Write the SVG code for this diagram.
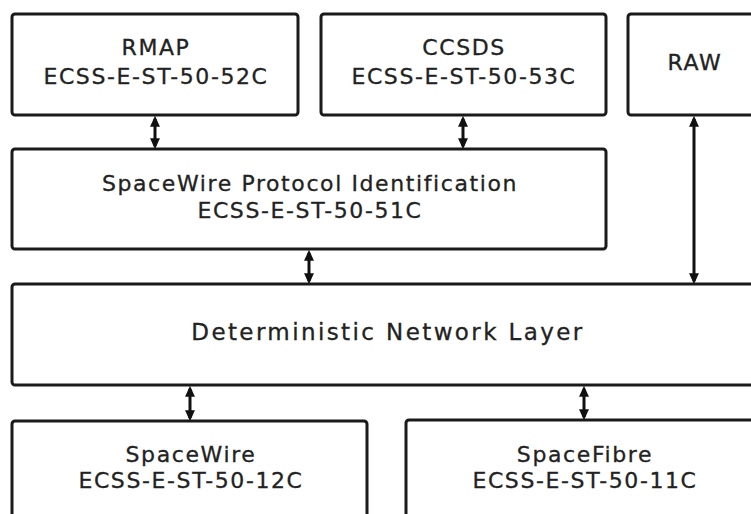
<svg xmlns="http://www.w3.org/2000/svg" width="751" height="514" viewBox="0 0 751 514">
<style>
.box{fill:#fff;stroke:#1a1a1a;stroke-width:3;}
.t{font-family:"DejaVu Sans",sans-serif;font-size:22px;letter-spacing:1.6px;fill:#222;stroke:#222;stroke-width:0.3px;text-anchor:middle;}
.big{font-size:23px;letter-spacing:2.4px;}
.conn{stroke:#111;stroke-width:3;fill:none;marker-start:url(#ah);marker-end:url(#ah);}
</style>
<defs>
<marker id="ah" markerUnits="userSpaceOnUse" markerWidth="11" markerHeight="11" viewBox="0 0 10 10" refX="7" refY="5" orient="auto-start-reverse">
<path d="M0,0.5 L10,5 L0,9.5 z" fill="#111"/>
</marker>
</defs>
<rect width="751" height="514" fill="#fff"/>
<g id="rmap"><rect class="box" x="12" y="14" width="286" height="101" rx="3"/>
<text class="t" x="156" y="55">RMAP</text><text class="t" x="156" y="84">ECSS-E-ST-50-52C</text></g>
<g id="ccsds"><rect class="box" x="321" y="14" width="285" height="101" rx="3"/>
<text class="t" x="464" y="55">CCSDS</text><text class="t" x="464" y="84">ECSS-E-ST-50-53C</text></g>
<g id="raw"><rect class="box" x="628" y="14" width="140" height="101" rx="3"/>
<text class="t" x="695" y="70">RAW</text></g>
<g id="spi"><rect class="box" x="12" y="149" width="594" height="100" rx="3"/>
<text class="t" x="310" y="191">SpaceWire Protocol Identification</text><text class="t" x="310" y="218">ECSS-E-ST-50-51C</text></g>
<g id="dnl"><rect class="box" x="12" y="284" width="760" height="101" rx="3"/>
<text class="t big" x="388" y="340">Deterministic Network Layer</text></g>
<g id="spacewire"><rect class="box" x="12" y="421" width="355" height="110" rx="3"/>
<text class="t" x="191" y="462">SpaceWire</text><text class="t" x="191" y="488">ECSS-E-ST-50-12C</text></g>
<g id="spacefibre"><rect class="box" x="406" y="420" width="360" height="110" rx="3"/>
<text class="t" x="585" y="462">SpaceFibre</text><text class="t" x="585" y="488">ECSS-E-ST-50-11C</text></g>
<g id="connectors">
<line class="conn" x1="155" y1="119" x2="155" y2="146"/>
<line class="conn" x1="463" y1="119" x2="463" y2="146"/>
<line class="conn" x1="694" y1="119" x2="694" y2="281"/>
<line class="conn" x1="309" y1="253" x2="309" y2="281"/>
<line class="conn" x1="190" y1="389" x2="190" y2="418"/>
<line class="conn" x1="584" y1="389" x2="584" y2="417"/>
</g>
</svg>
